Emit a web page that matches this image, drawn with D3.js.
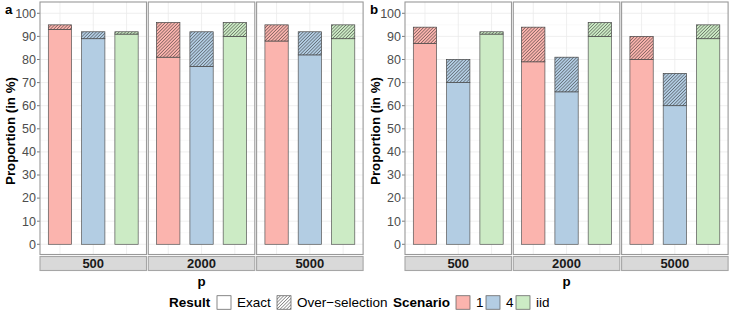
<!DOCTYPE html>
<html lang="en">
<head>
  <meta charset="UTF-8">
  <title>Proportion by p and scenario</title>
  <script src="https://d3js.org/d3.v7.min.js"></script>
  <style>
    body { margin: 0; background: #fff; }
    text { font-family: "Liberation Sans", Arial, sans-serif; }
    .tick-label { font-size: 12.5px; fill: #4d4d4d; }
    .strip-label { font-size: 13px; font-weight: bold; fill: #1a1a1a; }
    .axis-title { font-size: 13.3px; font-weight: bold; fill: #000; }
    .legend-text { font-size: 13.5px; fill: #000; }
  </style>
</head>
<body>
  <div id="chart"></div>
  <script>
    // data
    const pValues = ["500", "2000", "5000"];
    const scenarios = ["1", "4", "iid"];
    const yTicks = [0, 10, 20, 30, 40, 50, 60, 70, 80, 90, 100];

    // rows = p, columns = scenario
    const exactA = [[93, 89, 91], [81, 77, 90], [88, 82, 89]];
    const totalA = [[95, 92, 92], [96, 92, 96], [95, 92, 95]];
    const exactB = [[87, 70, 91], [79, 66, 90], [80, 60, 89]];
    const totalB = [[94, 80, 92], [94, 81, 96], [90, 74, 95]];

    const width = 731;
    const height = 317;
    const panelW = 106.5;
    const panelGap = 1.8;
    const panelTop = 2;
    const panelBottom = 254.5;

    const svg = d3.select("#chart")
      .append("svg")
      .attr("width", width)
      .attr("height", height);

    const color = d3.scaleOrdinal()
      .domain(scenarios)
      .range(["#FBB4AE", "#B3CDE3", "#CCEBC5"]);

    const y = d3.scaleLinear()
      .domain([0, 100])
      .range([244.3, 13.3]);

    const x = d3.scalePoint()
      .domain(scenarios)
      .range([0, panelW])
      .padding(0.6);
    const barW = x.step() * 0.7;

    // hatch pattern
    const defs = svg.append("defs");
    defs.append("pattern")
      .attr("id", "hatch")
      .attr("patternUnits", "userSpaceOnUse")
      .attr("width", 2.3)
      .attr("height", 2.3)
      .attr("patternTransform", "rotate(45)")
      .append("line")
        .attr("x1", 0).attr("y1", 0)
        .attr("x2", 0).attr("y2", 2.3)
        .attr("stroke", "#222")
        .attr("stroke-width", 0.85);

    function drawFigure(label, left, exact, total) {
      const g = svg.append("g");

      // panel tag
      g.append("text")
        .attr("x", left - 35)
        .attr("y", 14)
        .attr("class", "axis-title")
        .text(label);

      // y axis title
      g.append("text")
        .attr("class", "axis-title")
        .attr("text-anchor", "middle")
        .attr("transform", `translate(${left - 25.5},${131}) rotate(-90)`)
        .text("Proportion (in %)");

      // y ticks
      const ax = g.append("g");
      ax.selectAll("line")
        .data(yTicks)
        .join("line")
          .attr("x1", left - 3).attr("x2", left)
          .attr("y1", d => y(d)).attr("y2", d => y(d))
          .attr("stroke", "#555")
          .attr("stroke-width", 0.8);
      ax.selectAll("text")
        .data(yTicks)
        .join("text")
          .attr("class", "tick-label")
          .attr("x", left - 4)
          .attr("y", d => y(d))
          .attr("dy", "0.35em")
          .attr("text-anchor", "end")
          .text(d => d);

      pValues.forEach((p, i) => {
        const px = left + i * (panelW + panelGap);
        const pg = g.append("g").attr("transform", `translate(${px},0)`);

        // grid
        const minor = d3.range(5, 100, 10);
        pg.selectAll(".minor")
          .data(minor)
          .join("line")
            .attr("x1", 0).attr("x2", panelW)
            .attr("y1", d => y(d)).attr("y2", d => y(d))
            .attr("stroke", "#f5f5f5")
            .attr("stroke-width", 0.6);
        pg.selectAll(".major")
          .data(yTicks)
          .join("line")
            .attr("x1", 0).attr("x2", panelW)
            .attr("y1", d => y(d)).attr("y2", d => y(d))
            .attr("stroke", "#ebebeb")
            .attr("stroke-width", 0.8);
        pg.selectAll(".vgrid")
          .data(scenarios)
          .join("line")
            .attr("x1", d => x(d)).attr("x2", d => x(d))
            .attr("y1", panelTop).attr("y2", panelBottom)
            .attr("stroke", "#ebebeb")
            .attr("stroke-width", 0.8);

        // exact part
        pg.selectAll(".exact")
          .data(scenarios)
          .join("rect")
            .attr("x", d => x(d) - barW / 2)
            .attr("y", (d, j) => y(exact[i][j]))
            .attr("width", barW)
            .attr("height", (d, j) => y(0) - y(exact[i][j]))
            .attr("fill", d => color(d))
            .attr("stroke", "#555")
            .attr("stroke-width", 0.7);

        // over-selection part
        const over = pg.selectAll(".over")
          .data(scenarios)
          .join("g");
        over.append("rect")
          .attr("x", d => x(d) - barW / 2)
          .attr("y", (d, j) => y(total[i][j]))
          .attr("width", barW)
          .attr("height", (d, j) => y(exact[i][j]) - y(total[i][j]))
          .attr("fill", d => color(d));
        over.append("rect")
          .attr("x", d => x(d) - barW / 2)
          .attr("y", (d, j) => y(total[i][j]))
          .attr("width", barW)
          .attr("height", (d, j) => y(exact[i][j]) - y(total[i][j]))
          .attr("fill", "url(#hatch)")
          .attr("stroke", "#444")
          .attr("stroke-width", 0.7);

        // panel border
        pg.append("rect")
          .attr("x", 0).attr("y", panelTop)
          .attr("width", panelW).attr("height", panelBottom - panelTop)
          .attr("fill", "none")
          .attr("stroke", "#999")
          .attr("stroke-width", 1.1);

        // strip
        pg.append("rect")
          .attr("x", 0).attr("y", 256.5)
          .attr("width", panelW).attr("height", 14)
          .attr("fill", "#d9d9d9")
          .attr("stroke", "#a6a6a6")
          .attr("stroke-width", 1.1);
        pg.append("text")
          .attr("class", "strip-label")
          .attr("x", panelW / 2)
          .attr("y", 263.8)
          .attr("dy", "0.35em")
          .attr("text-anchor", "middle")
          .text(p);
      });

      // x title
      const totalW = 3 * panelW + 2 * panelGap;
      g.append("text")
        .attr("class", "axis-title")
        .attr("x", left + totalW / 2)
        .attr("y", 281.5)
        .attr("dy", "0.35em")
        .attr("text-anchor", "middle")
        .text("p");
    }

    drawFigure("a", 40, exactA, totalA);
    drawFigure("b", 405, exactB, totalB);

    // legend
    const legend = svg.append("g").attr("transform", "translate(0,302.5)");
    const keyW = 14, keyH = 13.5;

    legend.append("text")
      .attr("class", "legend-text")
      .attr("font-weight", "bold")
      .attr("x", 169).attr("dy", "0.35em")
      .text("Result");

    const resultKeys = [
      { name: "Exact", x: 217, fill: "#fff" },
      { name: "Over\u2212selection", x: 277, fill: "url(#hatch)" }
    ];
    resultKeys.forEach(k => {
      legend.append("rect")
        .attr("x", k.x).attr("y", -keyH / 2)
        .attr("width", keyW).attr("height", keyH)
        .attr("fill", "#fff");
      legend.append("rect")
        .attr("x", k.x).attr("y", -keyH / 2)
        .attr("width", keyW).attr("height", keyH)
        .attr("fill", k.fill)
        .attr("stroke", "#555")
        .attr("stroke-width", 0.7);
      legend.append("text")
        .attr("class", "legend-text")
        .attr("x", k.x + keyW + 6).attr("dy", "0.35em")
        .text(k.name);
    });

    legend.append("text")
      .attr("class", "legend-text")
      .attr("font-weight", "bold")
      .attr("x", 393).attr("dy", "0.35em")
      .text("Scenario");

    const scenX = d3.scaleOrdinal().domain(scenarios).range([456, 486, 516]);
    scenarios.forEach(s => {
      legend.append("rect")
        .attr("x", scenX(s)).attr("y", -keyH / 2)
        .attr("width", keyW).attr("height", keyH)
        .attr("fill", color(s))
        .attr("stroke", "#555")
        .attr("stroke-width", 0.7);
      legend.append("text")
        .attr("class", "legend-text")
        .attr("x", scenX(s) + keyW + 6).attr("dy", "0.35em")
        .text(s);
    });
  </script>
</body>
</html>
